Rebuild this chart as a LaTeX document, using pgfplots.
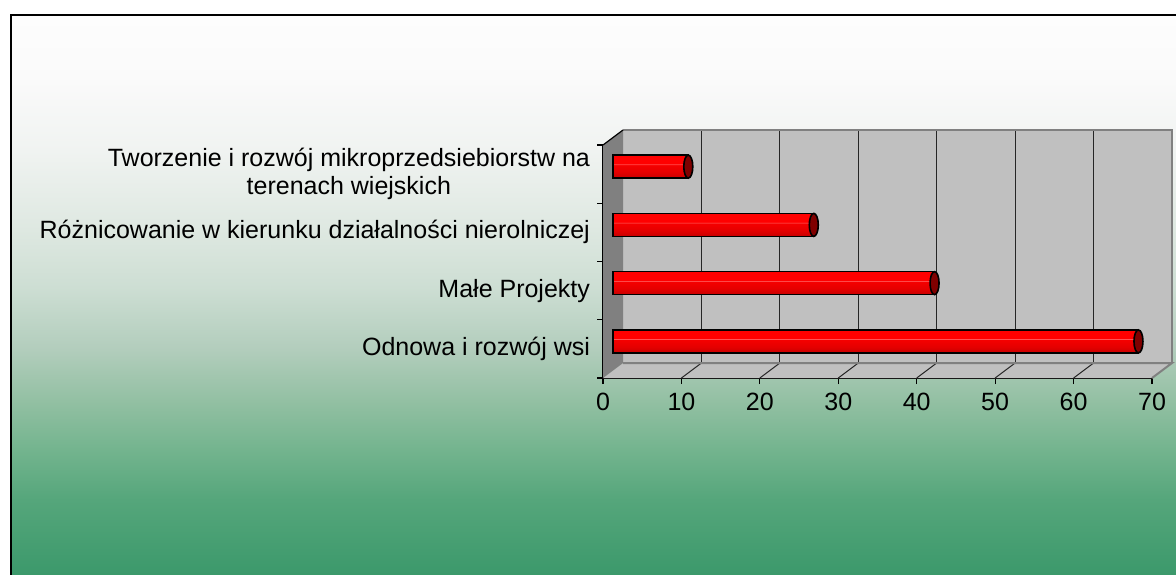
\documentclass[border=0pt]{standalone}
\usepackage{fontspec}
\setmainfont{Liberation Sans}
\usepackage{pgfplots}
\pgfplotsset{compat=1.18}
\usetikzlibrary{shapes.geometric}
\definecolor{wallgray}{RGB}{192,192,192}
\definecolor{darkwall}{RGB}{128,128,128}
\definecolor{capred}{RGB}{128,0,0}
\definecolor{bgA}{RGB}{58,152,106}
\definecolor{bgB}{RGB}{85,166,123}
\definecolor{bgC}{RGB}{115,180,142}
\definecolor{bgD}{RGB}{147,192,163}
\definecolor{bgE}{RGB}{178,205,188}
\definecolor{bgF}{RGB}{205,222,211}
\definecolor{bgG}{RGB}{222,232,225}
\definecolor{bgH}{RGB}{240,243,241}
\definecolor{bgI}{RGB}{250,250,250}
\definecolor{bgJ}{RGB}{253,253,253}
\pgfdeclareverticalshading{bgshade}{100bp}{color(0bp)=(bgA); color(25bp)=(bgA); color(32.1bp)=(bgB); color(36.5bp)=(bgC); color(40.9bp)=(bgD); color(45.4bp)=(bgE); color(50.9bp)=(bgF); color(56bp)=(bgG); color(63bp)=(bgH); color(69.2bp)=(bgI); color(75bp)=(bgJ); color(100bp)=(bgJ)}
\definecolor{rA}{RGB}{200,0,0}
\definecolor{rB}{RGB}{228,0,0}
\definecolor{rC}{RGB}{245,0,0}
\definecolor{rD}{RGB}{255,95,95}
\definecolor{rE}{RGB}{255,0,0}
\pgfdeclareverticalshading{cyl}{100bp}{color(0bp)=(rA); color(25bp)=(rA); color(38bp)=(rB); color(53.5bp)=(rC); color(55bp)=(rD); color(56.5bp)=(rE); color(75bp)=(rE); color(100bp)=(rE)}
\newcommand{\lblfont}{\fontsize{12.5}{14}\selectfont}
\begin{document}
\begin{tikzpicture}
\useasboundingbox (0,0) rectangle (588pt,-287pt);
\begin{scope}
\clip (0,0) rectangle (588pt,-287pt);
\shade[shading=bgshade] (5.5pt,-7.5pt) rectangle (600pt,-290pt);
\draw[black, line width=0.8pt] (5.5pt,-292pt) -- (5.5pt,-7.5pt) -- (600pt,-7.5pt);
\end{scope}
\begin{axis}[
  at={(301.5pt,-189pt)}, anchor=south west,
  width=274.5pt, height=116.5pt, scale only axis,
  xmin=0, xmax=70, ymin=0, ymax=4,
  clip=false,
  axis lines*=left,
  axis line style={black, line width=0.8pt},
  xtick={0,10,...,70},
  ytick={0,1,2,3,4},
  y tick label as interval,
  yticklabels={Odnowa i rozwój wsi, Małe Projekty, Różnicowanie w kierunku działalności nierolniczej, {Tworzenie i rozwój mikroprzedsiebiorstw na\\terenach wiejskich}},
  tick align=outside,
  major tick length=3pt,
  tick style={black, line width=0.6pt},
  ticklabel style={font=\lblfont},
  yticklabel style={align=center},
  xticklabel style={yshift=-1pt},
  /pgf/number format/assume math mode=true,
]
% back wall
\fill[wallgray] ([xshift=10pt,yshift=7.5pt]axis cs:0,0) rectangle ([xshift=10pt,yshift=7.5pt]axis cs:70,4);
\foreach \v in {10,20,...,60}{
  \edef\tmp{\noexpand\draw[black!85, line width=0.5pt] ([xshift=10pt,yshift=7.5pt]axis cs:\v,0) -- ([xshift=10pt,yshift=7.5pt]axis cs:\v,4);}
  \tmp
}
\draw[darkwall, line width=1pt] ([xshift=10pt,yshift=7.5pt]axis cs:0,4) -- ([xshift=10pt,yshift=7.5pt]axis cs:70,4) -- ([xshift=10pt,yshift=7.5pt]axis cs:70,0);
% floor
\fill[wallgray] (axis cs:0,0) -- (axis cs:70,0) -- ([xshift=10pt,yshift=7.5pt]axis cs:70,0) -- ([xshift=10pt,yshift=7.5pt]axis cs:0,0) -- cycle;
\foreach \v in {10,20,...,60}{
  \edef\tmp{\noexpand\draw[black!85, line width=0.5pt] (axis cs:\v,0) -- ([xshift=10pt,yshift=7.5pt]axis cs:\v,0);}
  \tmp
}
\draw[darkwall, line width=1pt] ([xshift=10pt,yshift=7.5pt]axis cs:0,0) -- ([xshift=10pt,yshift=7.5pt]axis cs:70,0) -- (axis cs:70,0);
% left wall
\fill[darkwall] (axis cs:0,0) -- ([xshift=10pt,yshift=7.5pt]axis cs:0,0) -- ([xshift=10pt,yshift=7.5pt]axis cs:0,4) -- (axis cs:0,4) -- cycle;
\draw[black, line width=0.6pt] (axis cs:0,4) -- ([xshift=10pt,yshift=7.5pt]axis cs:0,4);
% bars
\pgfplotsset{cylbar/.style={xbar, bar shift=0pt, bar width=11.5pt, draw=black, line width=0.8pt, shading=cyl, xshift=5pt, yshift=3.75pt,
  nodes near coords={}, every node near coord/.style={ellipse, draw=black, line width=0.8pt, fill=capred, minimum width=4.5pt, minimum height=11.5pt, inner sep=0pt, anchor=center}}}
\addplot[cylbar] coordinates {(67,0.5)};
\addplot[cylbar] coordinates {(41,1.5)};
\addplot[cylbar] coordinates {(25.6,2.5)};
\addplot[cylbar] coordinates {(9.6,3.5)};
\end{axis}
\end{tikzpicture}
\end{document}
